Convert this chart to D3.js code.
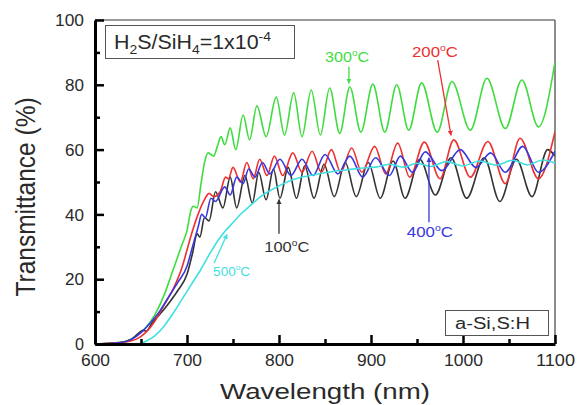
<!DOCTYPE html>
<html>
<head>
<meta charset="utf-8">
<script src="https://cdn.jsdelivr.net/npm/d3@7"></script>
<style>
  body { margin: 0; background: #fff; }
  svg { display: block; font-family: Arial, "Liberation Sans", sans-serif; }
</style>
</head>
<body>
<svg id="chart" width="577" height="405"></svg>
<script>
// ---- data (wavelength nm, transmittance %) ----
var wl100 = [600, 625, 640, 648, 652, 656, 662, 670, 680, 690, 700, 706, 711, 714, 719, 724, 731, 739, 747, 754,
             763, 771, 778, 786, 794, 801, 810, 819, 828, 838, 849, 860, 872, 884, 897, 910, 924, 937, 953, 970,
             987, 1004, 1023, 1040, 1058, 1075, 1092, 1100];
var tr100 = [0, 0.3, 1.5, 3.5, 4.2, 4, 6.5, 9, 12.5, 16.5, 21.5, 28, 34, 33, 39, 38, 47, 42, 51.5, 42,
             52, 43.5, 53, 44.5, 54, 45, 54.5, 45, 55, 45, 55.5, 45.5, 56, 45.5, 56, 45, 56.5, 45, 57, 46,
             57.5, 45, 57.5, 44, 57, 45.5, 60, 58];

var wl200 = [600, 630, 645, 655, 665, 675, 685, 695, 700, 705, 712, 718, 724, 729, 736, 742, 745, 750, 758, 765,
             772, 779, 787, 795, 804, 815, 825, 836, 846, 857, 867, 879, 890, 904, 916, 929, 942, 958, 975, 990,
             1008, 1027, 1046, 1062, 1082, 1100];
var tr200 = [0, 0.5, 1.5, 3.5, 7, 12, 17, 24, 29, 34, 40, 44, 46.5, 45.5, 47, 51.5, 51, 54.5, 50, 56,
             51, 57, 52, 58, 52, 59, 53, 59.5, 53, 60, 53, 60.5, 53, 61, 52.5, 62, 51.5, 62.3, 51, 63,
             51.5, 62.5, 49.5, 63.5, 51, 65.5];

var wl300 = [600, 620, 635, 645, 655, 665, 675, 685, 695, 700, 704, 707, 711, 715, 719, 723, 726, 729, 733, 737,
             741, 747, 753, 761, 768, 776, 786, 797, 806, 816, 825, 835, 845, 855, 866, 877, 889, 902, 915, 928,
             941, 955, 972, 988, 1008, 1026, 1046, 1064, 1082, 1100];
var tr300 = [0, 0.3, 1, 2.5, 5, 9, 15, 23, 31, 35, 41, 42.5, 42, 49, 56, 59, 58.5, 58, 61, 64,
             61.5, 66.7, 60, 70.7, 63, 73.5, 64, 76.2, 64.5, 77.5, 64, 78.4, 64.5, 79, 65, 79.3, 65.4, 80.2, 65.4, 80,
             66, 80.6, 65.4, 81, 66, 82, 66.5, 81.5, 67, 87];

var wl400 = [600, 625, 640, 650, 660, 670, 680, 690, 700, 706, 712, 716, 720, 726, 731, 741, 747, 754, 761, 767,
             774, 782, 790, 801, 813, 825, 837, 850, 864, 877, 891, 905, 920, 932, 945, 959, 977, 997, 1014, 1030,
             1046, 1065, 1082, 1100];
var tr400 = [0, 0.3, 1.5, 3.5, 6.5, 10, 14.5, 19, 24, 30, 36, 40, 39, 45, 44, 48.5, 46, 51.5, 49.5, 54,
             51.5, 56, 52.5, 57, 52, 57, 52, 58.5, 52.5, 58, 51.5, 57.5, 52, 58, 53, 59.3, 53.5, 60, 54.5, 59,
             53, 61, 53, 59.5];

var wl500 = [600, 645, 655, 665, 675, 685, 695, 705, 715, 725, 735, 742, 750, 760, 770, 780, 790, 800, 815, 830,
             845, 860, 875, 890, 905, 920, 935, 950, 965, 982, 1000, 1018, 1036, 1054, 1070, 1087, 1100];
var tr500 = [0, 0, 0.8, 2.5, 5.5, 9.5, 14, 18.5, 23, 28, 32.5, 35, 37.5, 40.5, 43, 45.5, 47.3, 48.8, 50.7, 51.8,
             52.6, 53.3, 53.8, 54.3, 54.6, 55.5, 54.6, 55.8, 54.8, 56.3, 55, 56.5, 55.2, 56.7, 55.3, 56.8, 55.8];

var xTicks = [600, 700, 800, 900, 1000, 1100];
var xMinor = [650, 750, 850, 950, 1050];
var yTicks = [0, 20, 40, 60, 80, 100];
var yMinor = [10, 30, 50, 70, 90];

var series = [
    {name: "300", wl: wl300, tr: tr300, color: "#3fdc3f"},
    {name: "100", wl: wl100, tr: tr100, color: "#333333"},
    {name: "200", wl: wl200, tr: tr200, color: "#ee3030"},
    {name: "400", wl: wl400, tr: tr400, color: "#3838dc"},
    {name: "500", wl: wl500, tr: tr500, color: "#3fe0e0"}
];

// labels + arrows, in data units: label position, arrow start, arrow tip
var notes = [
    {text: "300", color: "#3fdc3f", lx: 874, ly: 87, x1: 876, y1: 85.6, x2: 876, y2: 80.5, w: 44, fs: 14.5},
    {text: "200", color: "#ee3030", lx: 969.5, ly: 88.6, x1: 972.5, y1: 87.6, x2: 987, y2: 64.4, w: 46, fs: 14.5},
    {text: "100", color: "#333333", lx: 808.5, ly: 28.4, x1: 800, y1: 34, x2: 800, y2: 44.6, w: 45, fs: 14.5},
    {text: "400", color: "#3838dc", lx: 964, ly: 33, x1: 963, y1: 37.6, x2: 963, y2: 57.5, w: 46, fs: 14.5},
    {text: "500", color: "#3fe0e0", lx: 748.5, ly: 21, x1: 729.5, y1: 25, x2: 743.5, y2: 33.8, w: 37, fs: 12.5}
];

var W = 577, H = 405;
var margin = {top: 20, right: 22, bottom: 61, left: 95};

var svg = d3.select("#chart");
var x = d3.scaleLinear().domain([600, 1100]).range([margin.left, W - margin.right]);
var y = d3.scaleLinear().domain([0, 100]).range([H - margin.bottom, margin.top]);

svg.append("rect").attr("width", W).attr("height", H).attr("fill", "#fff");

var defs = svg.append("defs");
defs.append("clipPath").attr("id", "plotclip")
    .append("rect")
    .attr("x", x(600)).attr("y", y(100))
    .attr("width", x(1100) - x(600)).attr("height", y(0) - y(100));

notes.forEach(function(n){
    defs.append("marker")
        .attr("id", "arr" + n.text)
        .attr("viewBox", "0 0 10 10")
        .attr("refX", 9).attr("refY", 5)
        .attr("markerWidth", 4).attr("markerHeight", 4)
        .attr("markerUnits", "strokeWidth")
        .attr("orient", "auto")
        .append("path")
        .attr("d", "M0,0 L10,5 L0,10 z")
        .attr("fill", n.color);
});

// frame: thin grey top and right
svg.append("line")
    .attr("x1", x(600)).attr("x2", x(1100)).attr("y1", y(100)).attr("y2", y(100))
    .attr("stroke", "#777").attr("stroke-width", 1.5);
svg.append("line")
    .attr("x1", x(1100)).attr("x2", x(1100)).attr("y1", y(100)).attr("y2", y(0))
    .attr("stroke", "#666").attr("stroke-width", 1.5);

// curves
var line = d3.line()
    .x(function(d){ return x(d[0]); })
    .y(function(d){ return y(d[1]); })
    .curve(d3.curveMonotoneX);

var lines = svg.append("g").attr("clip-path", "url(#plotclip)");
series.forEach(function(s){
    var pts = s.wl.map(function(w, i){ return [w, s.tr[i]]; });
    lines.append("path")
        .attr("d", line(pts))
        .attr("fill", "none")
        .attr("stroke", s.color)
        .attr("stroke-width", 1.6)
        .attr("stroke-linejoin", "round");
});

// axes
var fmt = d3.format("d");
var gx = svg.append("g").attr("transform", "translate(0," + y(0) + ")")
    .call(d3.axisBottom(x).tickValues(xTicks).tickFormat(fmt).tickSize(-9).tickSizeOuter(0).tickPadding(11));
var gxm = svg.append("g").attr("transform", "translate(0," + y(0) + ")")
    .call(d3.axisBottom(x).tickValues(xMinor).tickSize(-5).tickSizeOuter(0).tickFormat(""));
var gy = svg.append("g").attr("transform", "translate(" + x(600) + ",0)")
    .call(d3.axisLeft(y).tickValues(yTicks).tickFormat(fmt).tickSize(-9).tickSizeOuter(0).tickPadding(11));
var gym = svg.append("g").attr("transform", "translate(" + x(600) + ",0)")
    .call(d3.axisLeft(y).tickValues(yMinor).tickSize(-5).tickSizeOuter(0).tickFormat(""));

gxm.select(".domain").remove();
gym.select(".domain").remove();

[gx, gy].forEach(function(g){
    g.select(".domain").attr("stroke", "#000").attr("stroke-width", 3);
});
[gx, gy, gxm, gym].forEach(function(g){
    g.selectAll(".tick line").attr("stroke", "#000").attr("stroke-width", 2.5);
    g.selectAll(".tick text")
        .attr("fill", "#2a2a2a")
        .style("font-size", "16px")
        .style("font-family", "Arial, 'Liberation Sans', sans-serif")
        .attr("textLength", function(d){ return String(d).length * 10 - 1; })
        .attr("lengthAdjust", "spacingAndGlyphs");
});
gy.selectAll(".tick text").attr("dy", "0.36em");

// axis titles
svg.append("text")
    .attr("transform", "translate(35," + 197 + ") scale(1.12,1) rotate(-90)")
    .attr("text-anchor", "middle")
    .attr("fill", "#2a2a2a")
    .style("font-size", "24.5px")
    .text("Transmittance (%)");

svg.append("text")
    .attr("x", (x(600) + x(1100)) / 2)
    .attr("y", 399)
    .attr("text-anchor", "middle")
    .attr("fill", "#2a2a2a")
    .attr("textLength", 210)
    .attr("lengthAdjust", "spacingAndGlyphs")
    .style("font-size", "22.5px")
    .text("Wavelength (nm)");

// temperature labels with arrows
notes.forEach(function(n){
    var t = svg.append("text")
        .attr("x", x(n.lx)).attr("y", y(n.ly))
        .attr("text-anchor", "middle")
        .attr("fill", n.color)
        .attr("textLength", n.w)
        .attr("lengthAdjust", "spacingAndGlyphs")
        .style("font-size", n.fs + "px");
    t.append("tspan").text(n.text);
    t.append("tspan").attr("dy", -6).style("font-size", (n.fs * 0.62) + "px").text("o");
    t.append("tspan").attr("dy", 6).text("C");

    svg.append("line")
        .attr("x1", x(n.x1)).attr("y1", y(n.y1))
        .attr("x2", x(n.x2)).attr("y2", y(n.y2))
        .attr("stroke", n.color)
        .attr("stroke-width", 1.3)
        .attr("marker-end", "url(#arr" + n.text + ")");
});

// ratio box (top left)
svg.append("rect")
    .attr("x", 105.5).attr("y", 25.5).attr("width", 189).attr("height", 33)
    .attr("fill", "#fff").attr("stroke", "#555").attr("stroke-width", 1);
var rt = svg.append("text")
    .attr("x", 114).attr("y", 49)
    .attr("fill", "#2a2a2a")
    .attr("textLength", 157)
    .attr("lengthAdjust", "spacingAndGlyphs")
    .style("font-size", "20px");
rt.append("tspan").text("H");
rt.append("tspan").attr("dy", 5).style("font-size", "13px").text("2");
rt.append("tspan").attr("dy", -5).text("S/SiH");
rt.append("tspan").attr("dy", 5).style("font-size", "13px").text("4");
rt.append("tspan").attr("dy", -5).text("=1x10");
rt.append("tspan").attr("dy", -8).style("font-size", "13px").text("-4");

// material box (bottom right)
svg.append("rect")
    .attr("x", 445.5).attr("y", 310.5).attr("width", 103).attr("height", 25)
    .attr("fill", "#fff").attr("stroke", "#555").attr("stroke-width", 1);
svg.append("text")
    .attr("x", 455).attr("y", 328.5)
    .attr("fill", "#2a2a2a")
    .attr("textLength", 75)
    .attr("lengthAdjust", "spacingAndGlyphs")
    .style("font-size", "16px")
    .text("a-Si,S:H");
</script>
</body>
</html>
